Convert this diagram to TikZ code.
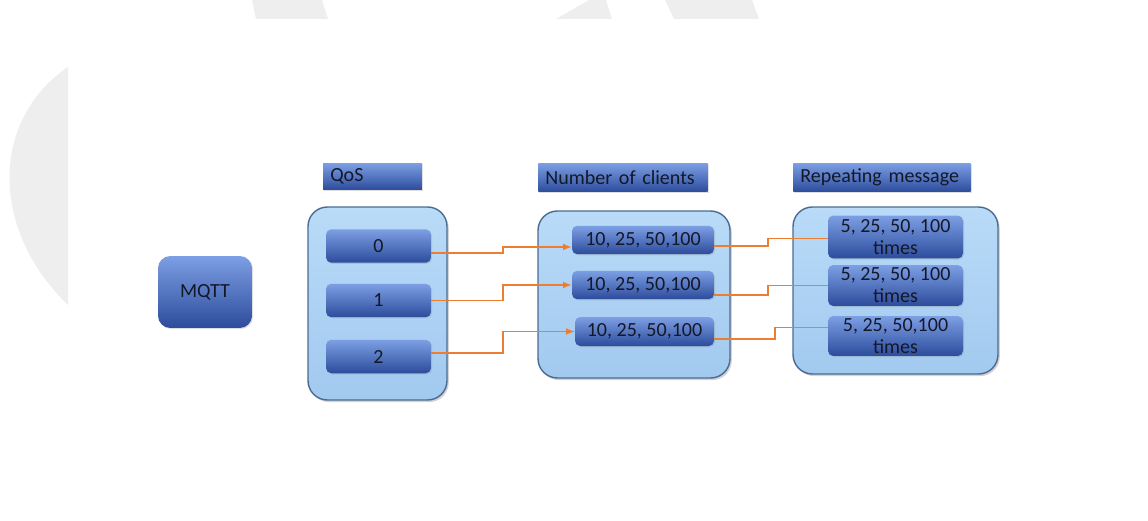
\documentclass[tikz,border=0pt]{standalone}
\usepackage{fontspec}
\setmainfont{Carlito}
\usetikzlibrary{shadows}

\definecolor{wmark}{HTML}{EEEEEE}
\definecolor{conttop}{HTML}{B9DBF8}
\definecolor{contbot}{HTML}{A2C9EF}
\definecolor{contline}{HTML}{4B6B93}
\definecolor{itemtop}{HTML}{7D9FE4}
\definecolor{itembot}{HTML}{2C4C9C}
\definecolor{txt}{HTML}{141828}
\definecolor{linkc}{HTML}{ED7D31}

\tikzset{
	cont/.style={draw=contline, line width=0.8pt, rounded corners=11pt,
		top color=conttop, bottom color=contbot,
		drop shadow={shadow xshift=1pt, shadow yshift=-1.2pt, opacity=0.35}},
	item/.style={rounded corners=3pt, top color=itemtop, bottom color=itembot,
		text=txt, align=center, inner sep=1pt,
		drop shadow={shadow xshift=0.6pt, shadow yshift=-0.6pt, opacity=0.25}},
	head/.style={top color=itemtop, bottom color=itembot, text=txt,
		align=left, inner xsep=4pt, inner ysep=0pt,
		drop shadow={shadow xshift=0.6pt, shadow yshift=-0.6pt, opacity=0.25}},
	link/.style={draw=linkc, line width=0.7pt},
}

\begin{document}
\begin{tikzpicture}[x=0.02cm, y=-0.02cm, font=\fontsize{11.4}{12.5}\selectfont]

	\useasboundingbox (0,0) rectangle (1148,520);
	% faint shapes in the background
	\fill[wmark] (68,67) .. controls (-10,120) and (-10,230) .. (68,305) -- cycle;
	\fill[wmark] (252,0) -- (322,0) -- (328,19) -- (256,19) -- cycle;
	\fill[wmark] (589,0) -- (606,0) -- (612,19) -- (556,19) -- cycle;
	\fill[wmark] (665,0) -- (752,0) -- (759,19) -- (674,19) -- cycle;

	\node[item, rounded corners=7pt, minimum width=1.88cm, minimum height=1.44cm] (mqtt) at (205,292) {MQTT};

	% headers
	\node[head, text width=48.1pt, minimum height=15.3pt] (hq) at (372.5,176.5) {QoS};
	\node[head, text width=88.4pt, minimum height=16.4pt] (hc) at (623,177.5) {Number of clients};
	\node[head, text width=92.9pt, minimum height=16.4pt] (hr) at (882,177.5) {Repeating message};

	% containers
	\node[cont, minimum width=2.78cm, minimum height=3.86cm] (qbox) at (377.5,303.5) {};
	\node[cont, minimum width=3.84cm, minimum height=3.34cm] (cbox) at (634,294.5) {};
	\node[cont, minimum width=4.10cm, minimum height=3.34cm] (rbox) at (895.5,290.5) {};

	% QoS levels
	\node[item, minimum width=2.10cm, minimum height=0.67cm] (q0) at (378.5,246) {0};
	\node[item, minimum width=2.10cm, minimum height=0.67cm] (q1) at (378.5,300.5) {1};
	\node[item, minimum width=2.10cm, minimum height=0.67cm] (q2) at (378.5,356.5) {2};

	% clients
	\node[item, minimum width=2.84cm, minimum height=0.57cm] (c0) at (643,240) {10, 25, 50,100};
	\node[item, minimum width=2.84cm, minimum height=0.57cm] (c1) at (643,285) {10, 25, 50,100};
	\node[item, minimum width=2.78cm, minimum height=0.58cm] (c2) at (644.5,331.5) {10, 25, 50,100};

	% repeats
	\node[item, minimum width=2.70cm, minimum height=0.86cm] (r0) at (895.5,237) {5, 25, 50, 100\\times};
	\node[item, minimum width=2.70cm, minimum height=0.82cm] (r1) at (895.5,285.5) {5, 25, 50, 100\\times};
	\node[item, minimum width=2.70cm, minimum height=0.80cm] (r2) at (895.5,336) {5, 25, 50,100\\times};

	% connectors
	\coordinate (ma) at (503,0);
	\coordinate (mb) at (768,0);
	\coordinate (mc) at (775,0);
	\draw[link,-latex] ([yshift=-4pt]q0.east) -- ([yshift=-4pt]q0.east -| ma) |- ([yshift=-4pt]c0.west);
	\draw[link,-latex] (q1.east) -- (q1.east -| ma) |- (c1.west);
	\draw[link,-latex] ([yshift=2pt]q2.east) -- ([yshift=2pt]q2.east -| ma) |- (c2.west);
	\draw[link] ([yshift=-3.4pt]c0.east) -- ([yshift=-3.4pt]c0.east -| mb) |- ([yshift=-1pt]r0.west);
	\draw[link] ([yshift=-5.7pt]c1.east) -- ([yshift=-5.7pt]c1.east -| mb) |- (r1.west);
	\draw[link] ([yshift=-4.3pt]c2.east) -- ([yshift=-4.3pt]c2.east -| mc) |- ([yshift=5pt]r2.west);

\end{tikzpicture}
\end{document}
